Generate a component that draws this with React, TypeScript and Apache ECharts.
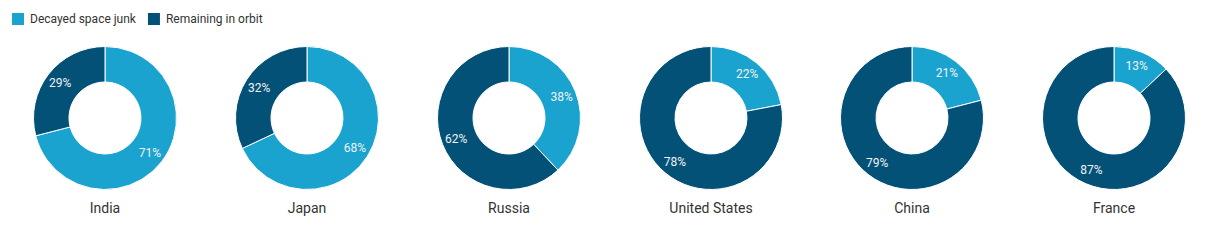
import React, { useEffect, useRef } from "react";
import * as echarts from "echarts";

const countries = ["India", "Japan", "Russia", "United States", "China", "France"];
const decayed = [71, 68, 38, 22, 21, 13];
const remaining = [29, 32, 62, 78, 79, 87];
const seriesNames = ["Decayed space junk", "Remaining in orbit"];
const colors = ["#1aa3cf", "#045178"];

const centersX = [105, 307, 509, 711, 912, 1114];
const centerY = 118;

export default function App() {
  const ref = useRef<HTMLDivElement>(null);
  useEffect(() => {
    document.body.style.margin = "0";
    const chart = echarts.init(ref.current!, null, { renderer: "svg" });
    const series = countries.map((c, i) => ({
      type: "pie",
      name: c,
      center: [centersX[i], centerY],
      radius: [36, 71.5],
      startAngle: 90,
      clockwise: true,
      avoidLabelOverlap: false,
      itemStyle: { borderColor: "#ffffff", borderWidth: 1 },
      label: {
        show: true,
        position: "inside",
        formatter: "{c}%",
        color: "#f2f2f2",
        fontSize: 12,
        fontFamily: "Roboto",
      },
      labelLine: { show: false },
      emphasis: { disabled: true },
      data: [
        { name: seriesNames[0], value: decayed[i] },
        { name: seriesNames[1], value: remaining[i] },
      ],
    }));
    const graphic = countries.map((c, i) => ({
      type: "text",
      x: centersX[i],
      y: 208,
      style: {
        text: c,
        align: "center",
        verticalAlign: "middle",
        textAlign: "center",
        textVerticalAlign: "middle",
        fill: "#333333",
        fontSize: 14,
        fontFamily: "Roboto",
      },
    }));
    chart.setOption({
      animation: false,
      color: colors,
      legend: {
        left: 5,
        top: 6,
        itemWidth: 14,
        itemHeight: 14,
        itemGap: 10,
        icon: "rect",
        data: seriesNames,
        textStyle: { color: "#333333", fontSize: 12, fontFamily: "Roboto" },
      },
      graphic,
      series,
    });
    return () => chart.dispose();
  }, []);
  return <div ref={ref} style={{ width: 1220, height: 240 }} />;
}
